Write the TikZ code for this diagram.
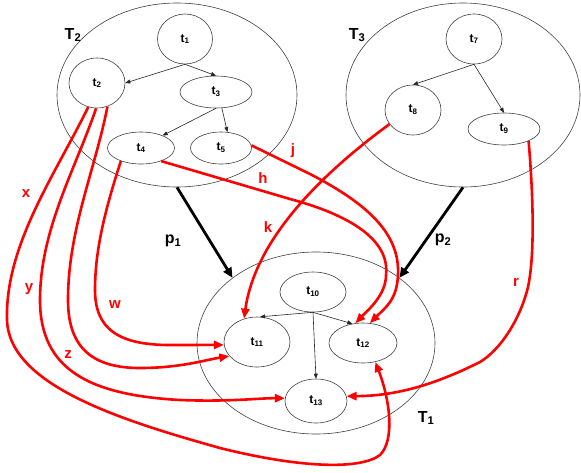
\documentclass[tikz,border=0pt]{standalone}
\usepackage{fontspec}
\setmainfont{Liberation Sans}
\usetikzlibrary{shapes}
\usetikzlibrary{arrows.meta}

\begin{document}
\begin{tikzpicture}[x=1pt, y=-1pt,
        tree_set/.style={ellipse, draw=black!75, line width=0.6pt, inner sep=0pt},
        task/.style={ellipse, draw=black!75, line width=0.6pt, inner sep=0pt, font=\fontsize{12}{12}\selectfont\bfseries},
        edge/.style={draw=black!85, line width=0.6pt, -{Triangle[length=5pt, width=4pt]}},
        flow/.style={line width=2.8pt, -{Triangle[length=10pt, width=9pt]}},
        map/.style={red, line width=2.6pt, -{Triangle[length=10pt, width=8pt]}},
        set_label/.style={font=\fontsize{16}{16}\selectfont\bfseries},
        map_label/.style={red, font=\fontsize{15}{15}\selectfont\bfseries}]
        \useasboundingbox (0,0) rectangle (581,472);

        \node[tree_set, minimum width=240, minimum height=184] (tree_two) at (177,95) {};
        \node[tree_set, minimum width=234, minimum height=184] (tree_three) at (463,95) {};
        \node[tree_set, minimum width=238, minimum height=182] (tree_one) at (316,343) {};
        \node[set_label] at (73,35) {T\textsubscript{2}};
        \node[set_label] at (357,35) {T\textsubscript{3}};
        \node[set_label] at (426,418) {T\textsubscript{1}};

        \node[task, minimum width=55, minimum height=50] (t1) at (185,39) {t\textsubscript{1}};
        \node[task, minimum width=56, minimum height=50] (t2) at (97,83) {t\textsubscript{2}};
        \node[task, minimum width=72, minimum height=32] (t3) at (216,92) {t\textsubscript{3}};
        \node[task, minimum width=67, minimum height=32] (t4) at (141,148) {t\textsubscript{4}};
        \node[task, minimum width=61, minimum height=32] (t5) at (221,148) {t\textsubscript{5}};
        \draw[edge] (t1.south) -- (t2.east);
        \draw[edge] (t1.south) -- (t3.north);
        \draw[edge] (t3.south) -- (t4.30);
        \draw[edge] (t3.-70) -- (t5.68);

        \node[task, minimum width=56, minimum height=50] (t7) at (474,39) {t\textsubscript{7}};
        \node[task, minimum width=56, minimum height=50] (t8) at (413,110) {t\textsubscript{8}};
        \node[task, minimum width=72, minimum height=32] (t9) at (504,129) {t\textsubscript{9}};
        \draw[edge] (t7.south) -- (t8.north);
        \draw[edge] (t7.south) -- (t9.north);

        \node[task, minimum width=66, minimum height=40] (t10) at (313,292) {t\textsubscript{10}};
        \node[task, minimum width=66, minimum height=50] (t11) at (257,342) {t\textsubscript{11}};
        \node[task, minimum width=68, minimum height=40] (t12) at (363,343) {t\textsubscript{12}};
        \node[task, minimum width=62, minimum height=44] (t13) at (316,401) {t\textsubscript{13}};
        \draw[edge] (t10.south) -- (t11.83);
        \draw[edge] (t10.south) -- (t12.119);
        \draw[edge] (t10.south) -- (t13.north);

        \draw[flow] (tree_two.south) -- (tree_one.142);
        \draw[flow] (tree_three.south) -- (tree_one.38);
        \node[set_label] at (173,241) {p\textsubscript{1}};
        \node[set_label] at (443,240) {p\textsubscript{2}};

        \draw[map] (t2.-110) .. controls (55,175) and (5,245) .. (7,320)
            .. controls (9,385) and (120,420) .. (220,448)
            .. controls (300,468) and (360,470) .. (380,455)
            .. controls (395,440) and (390,400) .. (t12.-57);
        \draw[map] (t2.-92) .. controls (75,170) and (40,230) .. (40,300)
            .. controls (40,370) and (90,395) .. (180,400)
            .. controls (230,402) and (260,398) .. (t13.175);
        \draw[map] (t2.-66) .. controls (95,170) and (68,230) .. (68,300)
            .. controls (68,350) and (95,368) .. (140,368)
            .. controls (180,368) and (205,360) .. (t11.207);
        \draw[map] (t4.213) .. controls (105,210) and (95,250) .. (95,290)
            .. controls (95,330) and (120,345) .. (170,345) -- (t11.185);
        \draw[map] (t4.-33) -- (290,199) .. controls (350,215) and (390,240) .. (386,275)
            .. controls (386,295) and (368,310) .. (t12.111);
        \draw[map] (t5.5) -- (310,174) .. controls (370,205) and (400,235) .. (398,275)
            .. controls (397,300) and (385,308) .. (t12.71);
        \draw[map] (t8.211) .. controls (320,175) and (255,240) .. (t11.119);
        \draw[map] (t9.-26) .. controls (532,180) and (536,250) .. (528,287)
            .. controls (520,320) and (500,350) .. (480,362)
            .. controls (440,382) and (400,396) .. (t13.9);

        \node[map_label] at (26,194) {x};
        \node[map_label] at (29,289) {y};
        \node[map_label] at (68,355) {z};
        \node[map_label] at (115,305) {w};
        \node[map_label] at (263,178) {h};
        \node[map_label] at (293,151) {j};
        \node[map_label] at (268,227) {k};
        \node[map_label] at (516,282) {r};
\end{tikzpicture}
\end{document}
